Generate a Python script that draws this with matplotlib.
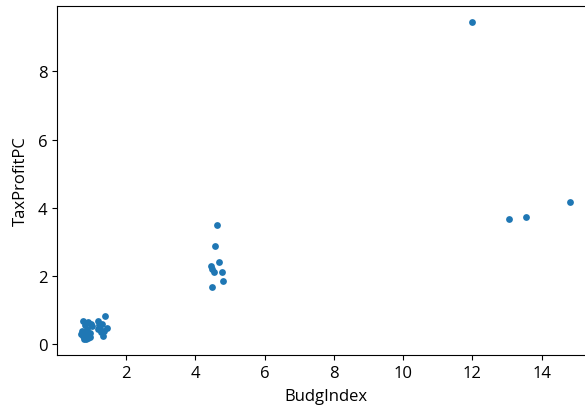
import matplotlib
matplotlib.use("Agg")
import matplotlib.pyplot as plt

plt.rcParams['font.family'] = ['Open Sans', 'DejaVu Sans']

budg_index = [
    # low cluster
    0.77, 0.91, 0.72, 0.82, 0.96, 1.01, 1.20, 1.39, 1.25, 1.34, 1.44, 1.30,
    0.75, 0.78, 0.85, 0.88, 0.80, 0.95, 0.71, 0.83, 1.22, 1.28, 1.35, 1.18,
    0.98, 0.90,
    # middle cluster
    4.64, 4.58, 4.68, 4.49, 4.54, 4.77, 4.81, 4.49, 4.45,
    # high values
    11.99, 13.05, 13.56, 14.81,
]
tax_profit_pc = [
    0.68, 0.64, 0.39, 0.20, 0.34, 0.54, 0.68, 0.83, 0.44, 0.24, 0.49, 0.59,
    0.25, 0.15, 0.30, 0.45, 0.55, 0.20, 0.30, 0.16, 0.55, 0.35, 0.40, 0.45,
    0.60, 0.17,
    3.49, 2.87, 2.41, 2.22, 2.12, 2.12, 1.85, 1.69, 2.28,
    9.45, 3.67, 3.72, 4.17,
]

fig = plt.figure(figsize=(5.85, 4.10), dpi=100)
ax = fig.add_axes([57 / 585, 54 / 410, 537 / 585, 349 / 410])
ax.scatter(budg_index, tax_profit_pc, s=24, color='#1f77b4', linewidths=0)
ax.set_xticks([2, 4, 6, 8, 10, 12, 14])
ax.set_yticks([0, 2, 4, 6, 8])
ax.tick_params(labelsize=12)
ax.set_xlabel('BudgIndex', fontsize=12, labelpad=5)
ax.set_ylabel('TaxProfitPC', fontsize=12, labelpad=6)
# the right edge of the axes lies beyond the cropped picture
ax.spines['right'].set_visible(False)
fig.savefig('out.png', dpi=100)
